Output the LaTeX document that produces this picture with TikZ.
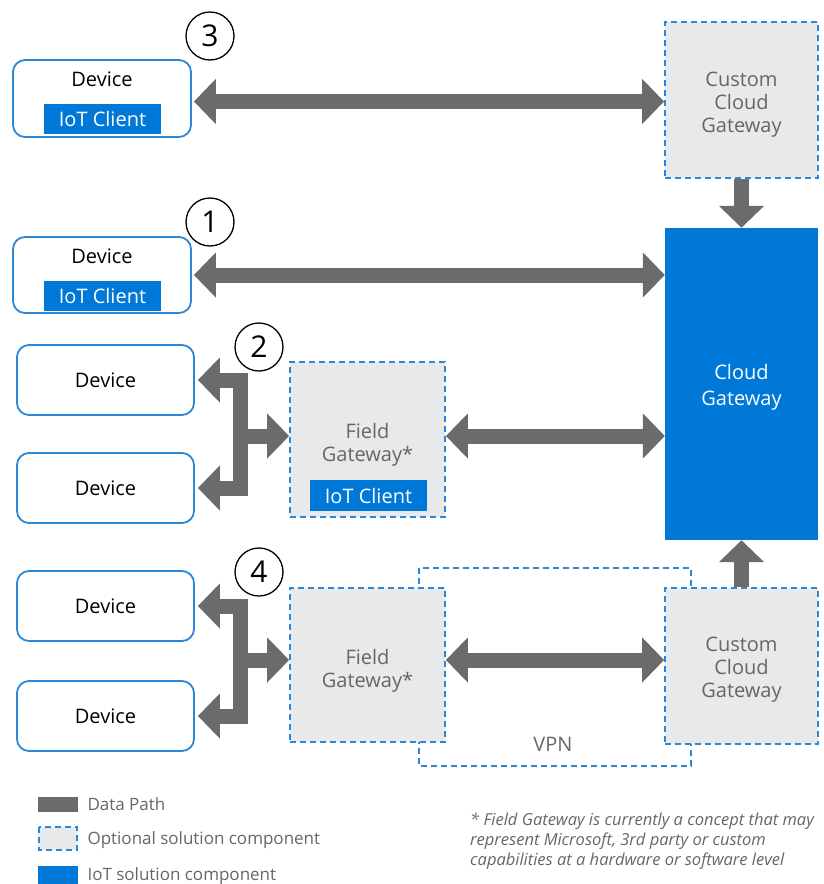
\documentclass[tikz,border=0pt]{standalone}
\usepackage{fontspec}
\setmainfont{Open Sans}
\usepackage{xcolor}
\usetikzlibrary{arrows.meta}

\definecolor{pathgray}{HTML}{6B6B6B}
\definecolor{iotblue}{HTML}{0078D7}
\definecolor{linkblue}{HTML}{2B88D8}
\definecolor{optgray}{HTML}{E8E9EB}
\definecolor{labelgray}{HTML}{666666}

\tikzset{
  devbox/.style={draw=linkblue, line width=1.8pt, rounded corners=12pt, fill=white},
  optbox/.style={draw=linkblue, line width=1.8pt, dash pattern=on 6pt off 4pt, fill=optgray},
  optlabel/.style={text=labelgray, align=center},
  iotbox/.style={fill=iotblue, text=white, inner sep=0pt},
  numcircle/.style={draw, circle, line width=1.3pt, minimum size=48pt, inner sep=0pt,
    font=\fontsize{30}{30}\selectfont},
  datapath/.style={draw=pathgray, line width=15pt, line join=miter,
    {Triangle[length=22pt,width=44pt]}-{Triangle[length=22pt,width=44pt]}},
  datahead/.style={draw=pathgray, line width=15pt, -{Triangle[length=22pt,width=44pt]}},
  legendtext/.style={text=labelgray, anchor=west, font=\fontsize{17}{20}\selectfont}
}

\begin{document}
\begin{tikzpicture}[x=1pt, y=-1pt, font=\fontsize{20}{23}\selectfont]
        \useasboundingbox (0,0) rectangle (823,884);

        % VPN tunnel
        \draw[draw=linkblue, line width=1.8pt, dash pattern=on 6pt off 4pt] (419,568) rectangle (691,766);
        \node[text=labelgray] (vpn) at (553,744) {VPN};

        % path 3
        \node[numcircle] (num3) at (210,36) {3};
        \node[devbox, minimum width=178pt, minimum height=77pt] (dev3) at (102,98.5) {};
        \node (dev3label) at (102,79) {Device};
        \node[iotbox, minimum width=117pt, minimum height=30pt] (iot3) at (102.5,119) {IoT Client};
        \node[optbox, minimum width=153pt, minimum height=156pt] (ccg3) at (741.5,100) {};
        \node[optlabel] (ccg3label) at (741.5,105) {Custom\\Cloud\\Gateway};

        % cloud gateway
        \node[iotbox, minimum width=153pt, minimum height=312pt] (cgw) at (741.5,384) {};
        \node[text=white, align=center, font=\fontsize{20}{26}\selectfont] (cgwlabel) at (741.5,387) {Cloud\\Gateway};

        % path 1
        \node[numcircle] (num1) at (210,222) {1};
        \node[devbox, minimum width=178pt, minimum height=76pt] (dev1) at (102,275) {};
        \node (dev1label) at (102,256) {Device};
        \node[iotbox, minimum width=117pt, minimum height=30pt] (iot1) at (102.5,296) {IoT Client};

        % path 2
        \node[numcircle] (num2) at (259,347) {2};
        \node[devbox, minimum width=177pt, minimum height=70pt] (dev2a) at (105.5,380) {Device};
        \node[devbox, minimum width=177pt, minimum height=70pt] (dev2b) at (105.5,488) {Device};
        \node[optbox, minimum width=155pt, minimum height=155pt] (fg2) at (367.5,439.5) {};
        \node[optlabel] (fg2label) at (367.5,445) {Field\\Gateway*};
        \node[iotbox, minimum width=117pt, minimum height=31pt] (iot2) at (368.5,495.5) {IoT Client};
        \coordinate (br2) at (240,436);

        % path 4
        \node[numcircle] (num4) at (259,572) {4};
        \node[devbox, minimum width=177pt, minimum height=70pt] (dev4a) at (105.5,606) {Device};
        \node[devbox, minimum width=177pt, minimum height=70pt] (dev4b) at (105.5,716) {Device};
        \node[optbox, minimum width=155pt, minimum height=154pt] (fg4) at (367.5,665) {};
        \node[optlabel] (fg4label) at (367.5,671) {Field\\Gateway*};
        \node[optbox, minimum width=153pt, minimum height=156pt] (ccg4) at (741.5,666) {};
        \node[optlabel] (ccg4label) at (741.5,670) {Custom\\Cloud\\Gateway};
        \coordinate (br4) at (240,660);

        % data paths
        \draw[datapath] ([xshift=2pt,yshift=-3pt]dev3.east) -- ([yshift=-3pt]dev3.east -| ccg3.west);
        \draw[datahead] (ccg3.south) -- (cgw.north);
        \draw[datapath] ([xshift=2pt]dev1.east) -- (dev1.east -| cgw.west);
        \draw[datapath] ([xshift=3pt]dev2a.east) -| (br2) |- ([xshift=3pt]dev2b.east);
        \draw[datahead] ([xshift=-7.5pt]br2) -- (br2 -| fg2.west);
        \draw[datapath] (br2 -| fg2.east) -- (br2 -| cgw.west);
        \draw[datapath] ([xshift=3pt]dev4a.east) -| (br4) |- ([xshift=3pt]dev4b.east);
        \draw[datahead] ([xshift=-7.5pt]br4) -- (br4 -| fg4.west);
        \draw[datapath] (br4 -| fg4.east) -- (br4 -| ccg4.west);
        \draw[datahead] (ccg4.north) -- (cgw.south);

        % legend
        \fill[pathgray] (38,797) rectangle (78,812);
        \node[legendtext] (leg1) at (84,804) {Data Path};
        \draw[draw=linkblue, line width=1.8pt, dash pattern=on 6pt off 4pt, fill=optgray] (39,827) rectangle (77,850);
        \node[legendtext] (leg2) at (84,840) {Optional solution component};
        \fill[iotblue] (38,866) rectangle (78,884);
        \node[legendtext] (leg3) at (84,876) {IoT solution component};

        % footnote
        \node[text=labelgray, anchor=north west, align=left, inner sep=0pt,
          font=\fontsize{16.5}{20}\selectfont\itshape] (note) at (470,813)
          {* Field Gateway is currently a concept that may\\represent Microsoft, 3rd party or custom\\capabilities at a hardware or software level};
    \end{tikzpicture}
\end{document}
